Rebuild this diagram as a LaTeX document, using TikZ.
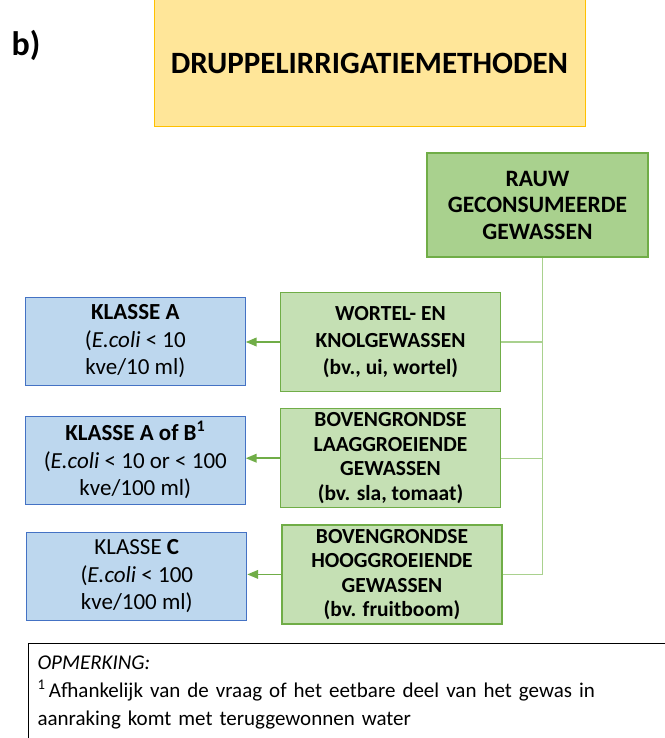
\documentclass[tikz,border=0pt]{standalone}
\usepackage{fontspec}
\setmainfont{Carlito}
\usetikzlibrary{positioning}
\usetikzlibrary{arrows}
\definecolor{titlefill}{HTML}{FFE699}
\definecolor{titledraw}{HTML}{FFC000}
\definecolor{rawfill}{HTML}{A9D18E}
\definecolor{cropfill}{HTML}{C5E0B4}
\definecolor{cropdraw}{HTML}{70AD47}
\definecolor{trunkline}{HTML}{A9D18E}
\definecolor{classfill}{HTML}{BDD7EE}
\definecolor{classdraw}{HTML}{4472C4}
\tikzstyle{title} = [rectangle, fill=titlefill, draw=titledraw, line width=1pt,
minimum width=431pt, minimum height=128pt, font=\fontsize{31}{34}\selectfont\bfseries]
\tikzstyle{crop} = [rectangle, fill=cropfill, draw=cropdraw, line width=1.2pt, align=center,
minimum width=220pt, minimum height=99pt, inner sep=0pt, font=\fontsize{21.5}{24.5}\selectfont\bfseries,
node distance=16pt]
\tikzstyle{raw} = [crop, fill=rawfill, minimum width=221pt, minimum height=104pt,
font=\fontsize{23.5}{26.5}\selectfont\bfseries]
\tikzstyle{class} = [rectangle, fill=classfill, draw=classdraw, line width=1.2pt, align=center,
minimum width=220pt, minimum height=88pt, inner sep=0pt, font=\fontsize{23}{27.5}\selectfont,
node distance=34pt]
\tikzstyle{note} = [rectangle, draw=black, line width=1pt, align=left, anchor=north west,
text width=650pt, inner xsep=9pt, inner ysep=12pt,
font=\fontsize{21}{28}\selectfont]
\tikzset{>={triangle 45}}

\begin{document}
\begin{tikzpicture}[x=1pt, y=-1pt]
  \useasboundingbox (0,0) rectangle (664,738);
  \node[font=\fontsize{34}{34}\selectfont\bfseries] (lbl) at (26,45) {b)};
  \node[title] (t) at (369.5,63) {DRUPPELIRRIGATIEMETHODEN};

  \node[raw] (raw) at (537.5,205) {RAUW\\GECONSUMEERDE\\GEWASSEN};

  \node[crop, font=\fontsize{21.5}{27}\selectfont\bfseries] (wo) at (390.5,342)
    {WORTEL- EN\\KNOLGEWASSEN\\(bv., ui, wortel)};
  \node[crop, below=of wo] (lg) {BOVENGRONDSE\\LAAGGROEIENDE\\GEWASSEN\\(bv. sla, tomaat)};
  \node[crop, below=of lg, xshift=1.5pt] (hg) {BOVENGRONDSE\\HOOGGROEIENDE\\GEWASSEN\\(bv. fruitboom)};

  \node[class, left=of wo, yshift=0.5pt] (ka) {\textbf{KLASSE A}\\(\textit{E.coli} < 10\\kve/10 ml)};
  \node[class, left=of lg, yshift=-2pt] (kab) {\textbf{KLASSE A of B\textsuperscript{1}}\\(\textit{E.coli} < 10 or < 100\\kve/100 ml)};
  \node[class, left=of hg, yshift=-2pt] (kc) {KLASSE \textbf{C}\\(\textit{E.coli} < 100\\kve/100 ml)};

  % trunk from the raw crops down to the three crop groups
  \coordinate (tr) at ([xshift=5pt]raw.south);
  \draw[trunkline, line width=1.2pt] (tr) |- (hg.east);
  \foreach \g in {wo,lg} {
    \draw[trunkline, line width=1.2pt] (\g.east) -- (\g.east -| tr);
  }

  % crop group -> water class
  \foreach \g/\k in {wo/ka, lg/kab, hg/kc} {
    \draw[->, cropdraw, line width=1.5pt] (\g.west) -- (\g.west -| \k.east);
  }

  \node[note] (opm) at (28,643) {\textit{OPMERKING:}\\
  \textsuperscript{1}\,Afhankelijk van de vraag of het eetbare deel van het gewas in\\
  aanraking komt met teruggewonnen water};
\end{tikzpicture}
\end{document}
